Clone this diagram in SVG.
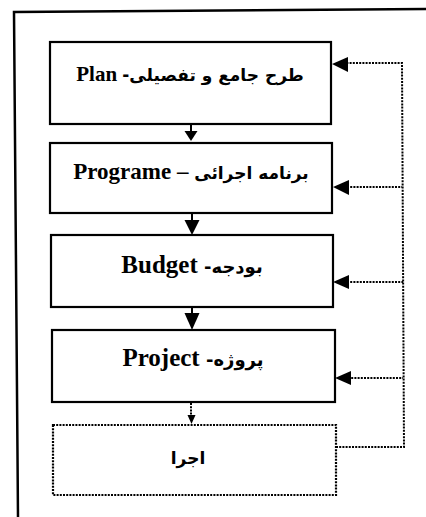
<svg xmlns="http://www.w3.org/2000/svg" width="426" height="517" viewBox="0 0 426 517">
<style>
.box{fill:#fff;stroke:#000;stroke-width:2.2}
.dbox{fill:#fff;stroke:#000;stroke-width:2.2;stroke-dasharray:2 1.2}
.lat{font-family:"Liberation Serif","DejaVu Serif",serif;font-weight:bold;fill:#000}
.ar{font-family:"DejaVu Sans",sans-serif;font-weight:bold}
.dl{fill:none;stroke:#000;stroke-width:2;stroke-dasharray:2 1.2}
.sl{fill:none;stroke:#000;stroke-width:2}
</style>
<rect width="426" height="517" fill="#fff"/>
<path d="M18 517 L14 12 L426 9" fill="none" stroke="#000" stroke-width="2.5"/>
<g id="node-plan">
<rect class="box" x="50" y="42" width="281" height="82"/>
<text class="lat" x="190" y="81" font-size="21" text-anchor="middle" direction="rtl"><tspan class="ar" font-size="17">طرح جامع و تفصیلی-</tspan> Plan</text>
</g>
<g id="node-programe">
<rect class="box" x="50" y="143" width="282" height="70"/>
<text class="lat" x="191" y="179" font-size="23" text-anchor="middle" direction="rtl"><tspan class="ar" font-size="17">برنامه اجرائی</tspan> – Programe</text>
</g>
<g id="node-budget">
<rect class="box" x="51" y="235" width="282" height="72"/>
<text class="lat" x="192" y="273" font-size="25" text-anchor="middle" direction="rtl"><tspan class="ar" font-size="18">بودجه-</tspan> Budget</text>
</g>
<g id="node-project">
<rect class="box" x="52" y="330" width="283" height="72"/>
<text class="lat" x="193" y="366" font-size="25" text-anchor="middle" direction="rtl"><tspan class="ar" font-size="18">پروژه-</tspan> Project</text>
</g>
<g id="node-ejra">
<rect class="dbox" x="53" y="425" width="283" height="70"/>
<text class="ar" x="188" y="464" font-size="17" text-anchor="middle" direction="rtl">اجرا</text>
</g>
<g id="connectors">
<line class="sl" x1="191" y1="124" x2="191" y2="133"/>
<polygon points="184.5,131 197.5,131 191,141"/>
<line class="sl" x1="192" y1="213" x2="192" y2="221"/>
<polygon points="184.5,220 199.5,220 192,235"/>
<line class="sl" x1="192" y1="307" x2="192" y2="314"/>
<polygon points="184.5,313 199.5,313 192,330"/>
<line class="dl" x1="191" y1="403" x2="191" y2="415" stroke-width="1"/>
<polygon points="187.5,415 195.5,415 191.5,424"/>
<path class="dl" d="M336 447 L404 447 L402 63 L346 63"/>
<polygon points="332,64 348,57 348,72"/>
<line class="dl" x1="347" y1="187" x2="402" y2="187"/>
<polygon points="333,187 349,180 349,195"/>
<line class="dl" x1="347" y1="282" x2="403" y2="282"/>
<polygon points="333,282 349,275 349,289"/>
<line class="dl" x1="348" y1="378" x2="403" y2="378"/>
<polygon points="335,378 351,371 351,385"/>
</g>
</svg>
